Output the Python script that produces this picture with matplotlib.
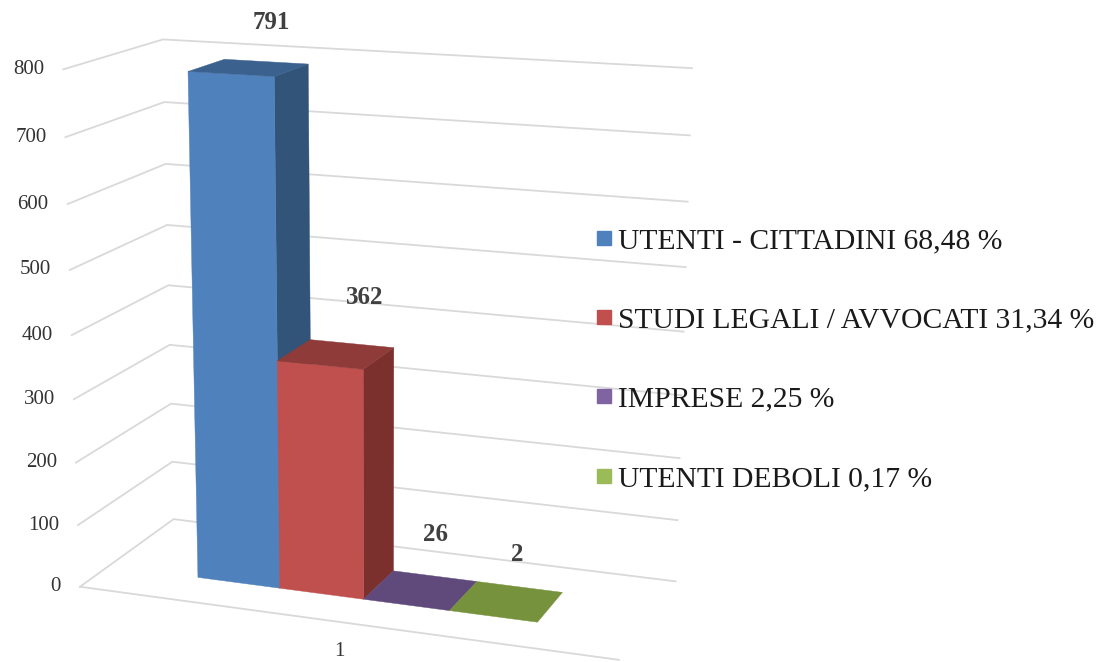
import numpy as np
import matplotlib
matplotlib.use("Agg")
import matplotlib.pyplot as plt
from matplotlib.lines import Line2D

# values
categories = ["UTENTI - CITTADINI 68,48 %", "STUDI LEGALI / AVVOCATI 31,34 %",
              "IMPRESE 2,25 %", "UTENTI DEBOLI 0,17 %"]
bar_labels = [791, 362, 26, 2]
# last two are drawn flat on the floor in the original, whatever their label says
bar_heights = [791, 362, 0, 0]
tick_values = [0, 100, 200, 300, 400, 500, 600, 700, 800]
x_label = "1"

front_colors = ["#4F81BD", "#C0504D", "#8064A2", "#9BBB59"]
top_colors = ["#3B618F", "#8F3B39", "#604A7B", "#76923C"]
side_colors = ["#325479", "#7C302E", "#533F6B", "#66802F"]
grid_color = "#D9D9D9"

# camera: box corners (x, depth, value) -> position in the picture
box_3d = [(0, 0, 0), (1, 0, 0), (0, 1, 0), (1, 1, 0), (0, 0, 800), (0, 1, 800),
          (1, 1, 800), (0, 0, 400), (0, 1, 400), (1, 1, 400)]
box_2d = [(80, 588), (619, 660), (174, 520), (675, 581), (62, 71), (163, 40),
          (693, 68), (73, 332), (168, 284), (683, 332)]


def fit_camera():
    rows = []
    for (x, d, v), (px, py) in zip(box_3d, box_2d):
        p = [x, d, v / 800, 1]
        rows.append(p + [0, 0, 0, 0] + [-px * c for c in p])
        rows.append([0, 0, 0, 0] + p + [-py * c for c in p])
    return np.linalg.svd(np.array(rows, dtype=float))[2][-1].reshape(3, 4)


camera = fit_camera()


def project(x, d, v):
    u = camera @ np.array([x, d, v / 800, 1])
    return u[0] / u[2], u[1] / u[2]


def face(ax, corners, color):
    pts = [project(*c) for c in corners]
    ax.fill([p[0] for p in pts], [p[1] for p in pts], color=color, lw=0.3, zorder=3)


fig = plt.figure(figsize=(11.07, 6.62), dpi=100)
ax = fig.add_axes([0, 0, 1, 1])
ax.set_xlim(0, 1107)
ax.set_ylim(662, 0)
ax.axis("off")

# gridlines on both walls, then floor edges
for v in tick_values:
    pts = [project(0, 0, v), project(0, 1, v), project(1, 1, v)]
    ax.plot([p[0] for p in pts], [p[1] for p in pts], color=grid_color, lw=1.3, zorder=1)
    ax.text(pts[0][0] - 19, pts[0][1], str(v), ha="right", va="center",
            family="Liberation Serif", fontsize=15, color="#333333")
p0, p1 = project(0, 0, 0), project(1, 0, 0)
ax.plot([p0[0], p1[0]], [p0[1], p1[1]], color=grid_color, lw=1.3, zorder=1)

# the bars
d0, d1 = 0.295, 0.685
x0, bw = 0.179, 0.161
label_offsets = [(5, -39), (13, -46), (1, -42), (-2, -32)]
for i, h in enumerate(bar_heights):
    xa, xb = x0 + i * bw, x0 + (i + 1) * bw
    if h > 0:
        face(ax, [(xb, d0, 0), (xb, d1, 0), (xb, d1, h), (xb, d0, h)], side_colors[i])
        face(ax, [(xa, d0, 0), (xb, d0, 0), (xb, d0, h), (xa, d0, h)], front_colors[i])
    face(ax, [(xa, d0, h), (xb, d0, h), (xb, d1, h), (xa, d1, h)], top_colors[i])
    lx, ly = project((xa + xb) / 2, d1, h)
    ax.text(lx + label_offsets[i][0], ly + label_offsets[i][1], str(bar_labels[i]), ha="center", va="center",
            family="Liberation Serif", weight="bold", fontsize=18, color="#404040", zorder=4)

ax.text(339, 651, x_label, ha="center", va="center", family="Liberation Serif", fontsize=15, color="#333333")

handles = [Line2D([], [], ls="none", marker="s", ms=9.5, mfc=c, mec=c) for c in front_colors]
leg = ax.legend(handles, categories, loc="upper left", bbox_to_anchor=(583.5 / 1107, 1 - 228 / 662),
                frameon=False, prop={"family": "Liberation Serif", "size": 21.3},
                labelspacing=1.77, handletextpad=-0.25, handlelength=1.4, borderpad=0, borderaxespad=0)
for t in leg.get_texts():
    t.set_color("#1a1a1a")

fig.savefig("out.png", dpi=100)
